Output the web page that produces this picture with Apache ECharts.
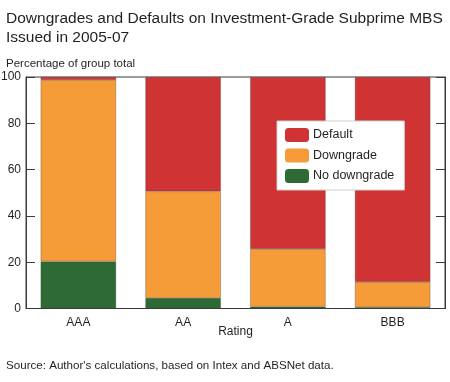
<!DOCTYPE html>
<html>
<head>
<meta charset="utf-8">
<script src="https://cdn.jsdelivr.net/npm/echarts@6/dist/echarts.min.js"></script>
<style>
html,body{margin:0;padding:0;background:#fff;}
#chart{width:450px;height:382px;}
</style>
</head>
<body>
<div id="chart"></div>
<script>
const categories = ['AAA', 'AA', 'A', 'BBB'];
const noDowngrade = [20.3, 4.5, 0.8, 0.5];
const downgrade = [78.4, 46.1, 24.9, 10.9];
const defaultVals = [1.3, 49.4, 74.3, 88.6];
const yTicks = [0, 20, 40, 60, 80, 100];

const FONT = 'Liberation Sans, Arial, sans-serif';
const TXT = '#231f20';
const AX = '#3a3a3a';

const chart = echarts.init(document.getElementById('chart'), null, {renderer: 'canvas'});
const barStyle = (c) => ({color: c, borderColor: 'rgba(60,60,60,0.6)', borderWidth: 0.5});
chart.setOption({
  animation: false,
  textStyle: {fontFamily: FONT},
  title: [
    {text: 'Downgrades and Defaults on Investment-Grade Subprime MBS\nIssued in 2005-07', left: 1, top: 4,
     textStyle: {fontFamily: FONT, fontSize: 15.5, fontWeight: 'normal', color: TXT, lineHeight: 19}},
    {text: 'Percentage of group total', left: 1, top: 52.5,
     textStyle: {fontFamily: FONT, fontSize: 11.5, fontWeight: 'normal', color: TXT}},
    {text: "Source: Author's calculations, based on Intex and ABSNet data.", left: 1, top: 354.5,
     textStyle: {fontFamily: FONT, fontSize: 11.6, fontWeight: 'normal', color: TXT}}
  ],
  legend: {
    orient: 'vertical', left: 277, top: 121,
    padding: [7, 10, 7, 8],
    backgroundColor: '#fff', borderColor: '#cfcfcf', borderWidth: 1,
    itemWidth: 24, itemHeight: 14, itemGap: 6.5,
    data: ['Default', 'Downgrade', 'No downgrade'],
    textStyle: {fontFamily: FONT, fontSize: 12.5, color: TXT, padding: [0, 0, 0, -1]},
    itemStyle: {borderWidth: 0}
  },
  grid: {left: 26, right: 5, top: 77, bottom: 73.5, outerBoundsMode: 'none', containLabel: false,
         show: true, borderColor: AX, borderWidth: 1, backgroundColor: 'transparent'},
  xAxis: {
    type: 'category', data: categories,
    name: 'Rating', nameLocation: 'middle', nameGap: 17, nameMoveOverlap: false,
    nameTextStyle: {fontFamily: FONT, fontSize: 12, color: TXT},
    axisLine: {lineStyle: {color: AX, width: 1}},
    axisTick: {inside: true, length: 5, alignWithLabel: false, lineStyle: {color: AX}},
    axisLabel: {fontFamily: FONT, fontSize: 12, color: TXT, margin: 8}
  },
  yAxis: [
    {type: 'value', min: yTicks[0], max: yTicks[yTicks.length - 1], interval: 20,
     axisLine: {show: true, lineStyle: {color: AX}},
     axisTick: {show: true, inside: true, length: 9, lineStyle: {color: AX}},
     axisLabel: {fontFamily: FONT, fontSize: 12, color: TXT, margin: 5},
     splitLine: {show: false}},
    {type: 'value', position: 'right', min: yTicks[0], max: yTicks[yTicks.length - 1], interval: 20,
     axisLine: {show: true, lineStyle: {color: AX}},
     axisTick: {show: true, inside: true, length: 9, lineStyle: {color: AX}},
     axisLabel: {show: false},
     splitLine: {show: false}}
  ],
  series: [
    {name: 'No downgrade', type: 'bar', stack: 'a', data: noDowngrade, barWidth: '72%', itemStyle: barStyle('#2e6a35')},
    {name: 'Downgrade', type: 'bar', stack: 'a', data: downgrade, barWidth: '72%', itemStyle: barStyle('#f59b38')},
    {name: 'Default', type: 'bar', stack: 'a', data: defaultVals, barWidth: '72%', itemStyle: barStyle('#cf3333')}
  ]
});
</script>
</body>
</html>
